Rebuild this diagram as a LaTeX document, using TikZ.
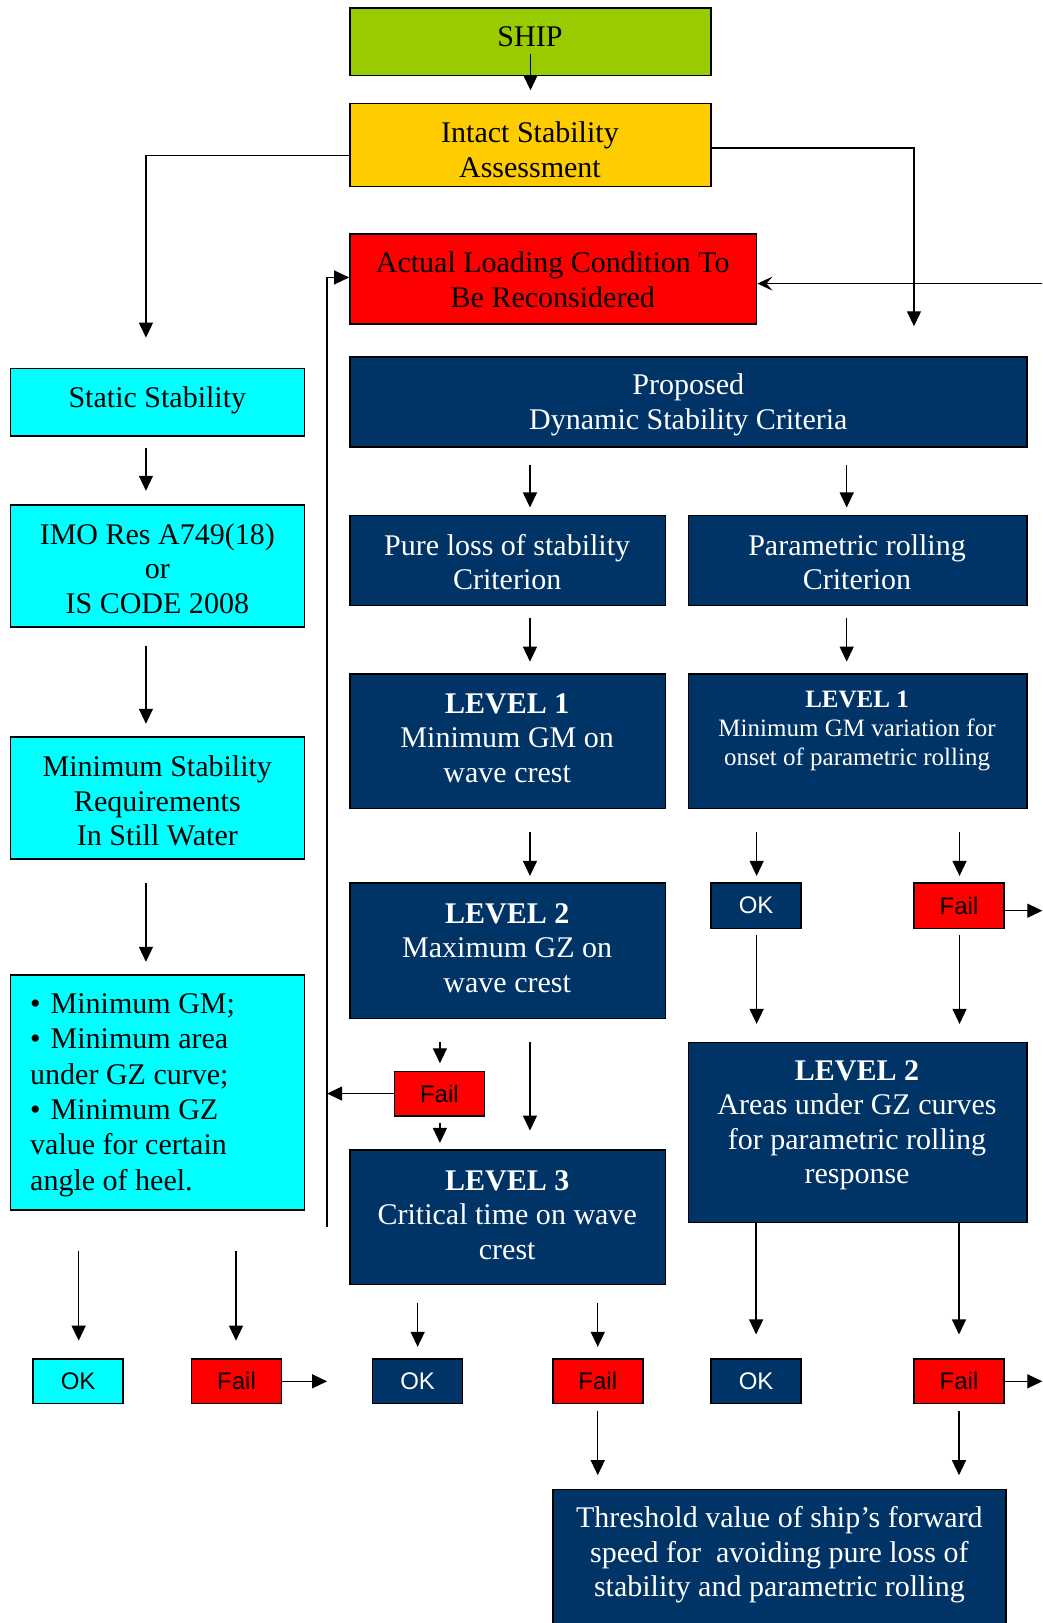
\documentclass[tikz,border=0pt]{standalone}
\usepackage{fontspec}
\setmainfont{Liberation Serif}
\newfontfamily\arialf{Liberation Sans}
\usetikzlibrary{arrows.meta,fit,calc}
\definecolor{shipgreen}{HTML}{99CC00}
\definecolor{intyellow}{HTML}{FFCC00}
\definecolor{navyb}{HTML}{003366}
\definecolor{cyanb}{HTML}{00FFFF}
\definecolor{redb}{HTML}{FF0000}
\newcommand{\mybul}{\textbullet\hspace{10pt}}
\begin{document}
\begin{tikzpicture}[x=1.0348pt,y=-1.0348pt,
  bx/.style={draw=black,line width=1.6pt,inner sep=0pt},
  nv/.style={bx,fill=navyb},
  cy/.style={bx,fill=cyanb},
  rd/.style={bx,fill=redb},
  txt/.style={align=center,inner sep=0pt,font=\fontsize{30}{34.5}\selectfont},
  wt/.style={txt,text=white},
  bt/.style={txt,text=black},
  smt/.style={wt,font=\fontsize{25}{29}\selectfont},
  sanst/.style={inner sep=0pt,font=\arialf\fontsize{24}{28}\selectfont},
  arr/.style={line width=1.3pt,-{Triangle[length=15pt,width=14pt]}},
  arrs/.style={line width=1.3pt,-{Stealth[length=15pt,width=14pt,inset=6pt]}}
]
\useasboundingbox (0,0) rectangle (1007,1568);
% column coordinates
\coordinate (cL) at (141,0);
\coordinate (cOK1) at (76,0);
\coordinate (cF1) at (228,0);
\coordinate (cFB) at (316,0);
\coordinate (cM1) at (425,0);
\coordinate (cM2) at (512,0);
\coordinate (cR0) at (818,0);
\coordinate (cR1) at (731,0);
\coordinate (cR2) at (927,0);
\coordinate (cIR) at (883,0);
\coordinate (cE) at (1007,0);

% boxes
\node[bx,fill=shipgreen,fit={(338,8) (687,73)}] (ship) {};
\node[bt] (shipt) at (512,35) {SHIP};
\node[bx,fill=intyellow,fit={(338,100) (687,180)}] (intact) {};
\node[bt] (intactt) at (512,144.5) {Intact Stability\\Assessment};
\node[rd,fit={(338,226) (731,313)}] (act) {};
\node[bt] (actt) at (534,270.5) {Actual Loading Condition To\\Be Reconsidered};

\node[cy,fit={(10,356) (294,421)}] (static) {};
\node[bt] (statict) at (152,387) {Static Stability};
\node[cy,fit={(10,488) (294,606)}] (imo) {};
\node[bt] (imot) at (152,549) {IMO Res A749(18)\\or\\IS CODE 2008};
\node[cy,fit={(10,712) (294,830)}] (minst) {};
\node[bt] (minstt) at (152,774) {Minimum Stability\\Requirements\\In Still Water};
\node[cy,fit={(10,942) (294,1169)}] (bul) {};
\node[bt,align=left,anchor=west,font=\fontsize{30}{35.4}\selectfont] (bult) at (29,1058) {\mybul Minimum GM;\\\mybul Minimum area\\under GZ curve;\\\mybul Minimum GZ\\value for certain\\angle of heel.};

\node[nv,fit={(338,345) (992,432)}] (prop) {};
\node[wt] (propt) at (665,391) {Proposed\\Dynamic Stability Criteria};
\node[nv,fit={(338,498) (643,585)}] (pure) {};
\node[wt] (puret) at (490,543) {Pure loss of stability\\Criterion};
\node[nv,fit={(665,498) (992,585)}] (param) {};
\node[wt] (paramt) at (828,543) {Parametric rolling\\Criterion};

\node[nv,fit={(338,651) (643,781)}] (l1l) {};
\node[wt] (l1lt) at (490,713) {\textbf{LEVEL 1}\\Minimum GM on\\wave crest};
\node[nv,fit={(665,651) (992,781)}] (l1r) {};
\node[smt] (l1rt) at (828,706) {\textbf{LEVEL 1}\\Minimum GM variation for\\onset of parametric rolling};

\node[nv,fit={(338,853) (643,984)}] (l2l) {};
\node[wt] (l2lt) at (490,916) {\textbf{LEVEL 2}\\Maximum GZ on\\wave crest};
\node[nv,fit={(687,853) (774,897)}] (okr) {};
\node[sanst,text=white] (okrt) at (okr.center) {OK};
\node[rd,fit={(883,853) (970,897)}] (failr) {};
\node[sanst] (failrt) at (failr.center) {Fail};

\node[rd,fit={(381,1035) (468,1078)}] (failm) {};
\node[sanst] (failmt) at (failm.center) {Fail};
\node[nv,fit={(338,1111) (643,1241)}] (l3) {};
\node[wt] (l3t) at (490,1174) {\textbf{LEVEL 3}\\Critical time on wave\\crest};
\node[nv,fit={(665,1007) (992,1181)}] (l2r) {};
\node[wt] (l2rt) at (828,1087) {\textbf{LEVEL 2}\\Areas under GZ curves\\for parametric rolling\\response};

\node[cy,fit={(32,1313) (119,1356)}] (okc) {};
\node[sanst] (okct) at (okc.center) {OK};
\node[rd,fit={(185,1313) (272,1356)}] (failc) {};
\node[sanst] (failct) at (failc.center) {Fail};
\node[nv,fit={(360,1313) (447,1356)}] (okb) {};
\node[sanst,text=white] (okbt) at (okb.center) {OK};
\node[rd,fit={(534,1313) (621,1356)}] (failb) {};
\node[sanst] (failbt) at (failb.center) {Fail};
\node[nv,fit={(687,1313) (774,1356)}] (okr2) {};
\node[sanst,text=white] (okr2t) at (okr2.center) {OK};
\node[rd,fit={(883,1313) (970,1356)}] (failr2) {};
\node[sanst] (failr2t) at (failr2.center) {Fail};

\node[nv,fit={(534,1439) (972,1580)}] (thr) {};
\node[wt] (thrt) at (753,1502) {Threshold value of ship's forward\\speed for\ \ avoiding pure loss of\\stability and parametric rolling};

% connectors
\draw[arr] ([yshift=22pt]ship.south) -- ([yshift=12.4pt]intact.north);
\draw[arr,shorten >=30pt] ([yshift=-10.3pt]intact.west) -| (static.north -| cL);
\draw[arr,shorten >=30pt] ([yshift=-3pt]intact.east) -| (prop.north -| cIR);
\coordinate (rin) at (1007,274);
\draw[arrs] (rin) -- (rin -| act.east);
\coordinate (fbot) at (316,1185);
\draw[arr] (fbot) |- ([yshift=1.5pt]act.west);
\draw[arr] (failm.west) -- (failm.west -| cFB);

\draw[arr,shorten <=11.4pt,shorten >=13.5pt] (static.south -| cL) -- (imo.north -| cL);
\draw[arr,shorten <=17.6pt,shorten >=12.4pt] (imo.south -| cL) -- (minst.north -| cL);
\draw[arr,shorten <=22.8pt,shorten >=12.4pt] (minst.south -| cL) -- (bul.north -| cL);
\draw[arr,shorten <=40.4pt,shorten >=17.6pt] (bul.south -| cOK1) -- (okc.north -| cOK1);
\draw[arr,shorten <=40.4pt,shorten >=17.6pt] (bul.south -| cF1) -- (failc.north -| cF1);
\draw[arr] (failc.east) -- (failc.east -| cFB);

\draw[arr,shorten <=16.6pt,shorten >=7.2pt] (prop.south -| cM2) -- (pure.north -| cM2);
\draw[arr,shorten <=16.6pt,shorten >=7.2pt] (prop.south -| cR0) -- (param.north -| cR0);
\draw[arr,shorten <=11.4pt,shorten >=11.4pt] (pure.south -| cM2) -- (l1l.north -| cM2);
\draw[arr,shorten <=11.4pt,shorten >=11.4pt] (param.south -| cR0) -- (l1r.north -| cR0);
\draw[arr,shorten <=22.8pt,shorten >=6.2pt] (l1l.south -| cM2) -- (l2l.north -| cM2);
\draw[arr,shorten <=22.8pt,shorten >=6.2pt] (l1r.south -| cR1) -- (okr.north -| cR1);
\draw[arr,shorten <=22.8pt,shorten >=6.2pt] (l1r.south -| cR2) -- (failr.north -| cR2);
\draw[arr] ([yshift=-5pt]failr.east) -- ([yshift=-5pt]failr.east -| cE);
\draw[arr,shorten <=6.2pt,shorten >=17.6pt] (okr.south -| cR1) -- (l2r.north -| cR1);
\draw[arr,shorten <=6.2pt,shorten >=17.6pt] (failr.south -| cR2) -- (l2r.north -| cR2);

\draw[arr,shorten <=22.8pt,shorten >=7.2pt] (l2l.south -| cM1) -- (failm.north -| cM1);
\draw[arr,shorten <=6.2pt,shorten >=6.2pt] (failm.south -| cM1) -- (l3.north -| cM1);
\draw[arr,shorten <=22.8pt,shorten >=18.6pt] (l2l.south -| cM2) -- (l3.north -| cM2);

\draw[arr,shorten <=17.6pt,shorten >=11.4pt] (l3.south -| okb) -- (okb.north);
\draw[arr,shorten <=17.6pt,shorten >=11.4pt] (l3.south -| failb) -- (failb.north);
\draw[arr,shorten >=23.8pt] (l2r.south -| okr2) -- (okr2.north);
\draw[arr,shorten >=23.8pt] (l2r.south -| failr2) -- (failr2.north);
\draw[arr] (failr2.east) -- (failr2.east -| cE);
\draw[arr,shorten <=6.2pt,shorten >=13.5pt] (failb.south) -- (thr.north -| failb);
\draw[arr,shorten <=6.2pt,shorten >=13.5pt] (failr2.south) -- (thr.north -| failr2);
\end{tikzpicture}
\end{document}
